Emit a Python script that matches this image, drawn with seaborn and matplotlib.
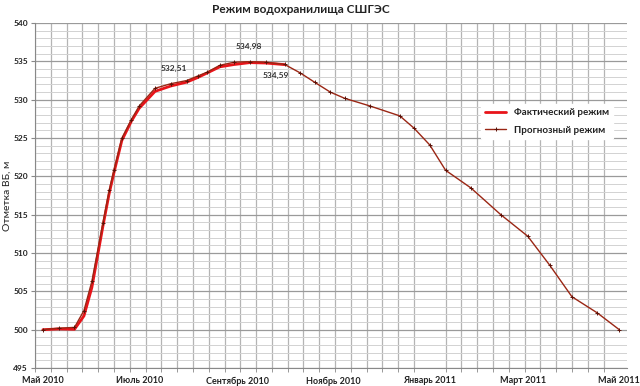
import numpy as np
import pandas as pd
import matplotlib
matplotlib.use('Agg')
import matplotlib.pyplot as plt
import matplotlib.dates as mdates
from matplotlib.ticker import MultipleLocator, FixedLocator, NullFormatter
import seaborn as sns

# Reservoir levels, m
forecast_dates = ['2010-05-01', '2010-05-11', '2010-05-21', '2010-05-27', '2010-06-01',
                  '2010-06-08', '2010-06-12', '2010-06-15', '2010-06-20', '2010-06-26',
                  '2010-07-01', '2010-07-11', '2010-07-21', '2010-07-31', '2010-08-07',
                  '2010-08-13', '2010-08-21', '2010-08-30', '2010-09-09', '2010-09-19',
                  '2010-10-01', '2010-10-11', '2010-10-20', '2010-10-30', '2010-11-08',
                  '2010-11-24', '2010-12-13', '2010-12-22', '2011-01-01', '2011-01-11',
                  '2011-01-27', '2011-02-15', '2011-03-04', '2011-03-18', '2011-04-01',
                  '2011-04-17', '2011-05-01']
forecast_level = [500.0, 500.2, 500.3, 502.5, 506.3,
                  513.9, 518.2, 520.8, 525.0, 527.4,
                  529.2, 531.5, 532.1, 532.51, 533.1,
                  533.6, 534.5, 534.9, 534.98, 534.9,
                  534.62, 533.5, 532.3, 531.0, 530.2,
                  529.2, 527.9, 526.3, 524.1, 520.8,
                  518.5, 515.0, 512.2, 508.4, 504.3,
                  502.2, 500.0]

actual_dates = forecast_dates[:21]
actual_level = [500.0, 500.1, 500.05, 501.8, 505.5,
                513.5, 517.8, 520.5, 524.7, 527.2,
                528.9, 531.1, 531.8, 532.3, 532.9,
                533.5, 534.3, 534.6, 534.85, 534.8,
                534.59]

# labelled points: (series, index, text)
labels = [('forecast', 13, '532,51'), ('forecast', 18, '534,98'), ('actual', 20, '534,59')]

month_ticks = ['2010-05-01', '2010-07-01', '2010-09-01', '2010-11-01',
               '2011-01-01', '2011-03-01', '2011-05-01']
month_labels = ['Май 2010', 'Июль 2010', 'Сентябрь 2010', 'Ноябрь 2010',
                'Январь 2011', 'Март 2011', 'Май 2011']

df_f = pd.DataFrame({'date': pd.to_datetime(forecast_dates), 'level': forecast_level})
df_a = pd.DataFrame({'date': pd.to_datetime(actual_dates), 'level': actual_level})

sns.set_style('white')
plt.rcParams['font.family'] = ['Lato', 'DejaVu Sans']

fig = plt.figure(figsize=(6.4, 3.86), dpi=100)
ax = fig.add_axes([0.0547, 0.0466, 0.9253, 0.8934])

sns.lineplot(data=df_a, x='date', y='level', ax=ax, color='#e8141a', linewidth=2.0,
             label='Фактический режим')
sns.lineplot(data=df_f, x='date', y='level', ax=ax, color='#9a2614', linewidth=1.0,
             marker='+', markersize=2.5, markeredgewidth=0.7, markeredgecolor='#5a1208',
             label='Прогнозный режим')

# annotations
offsets = {'532,51': (-9, 9), '534,98': (-1, 11), '534,59': (-6, -8)}
for series, i, txt in labels:
    d = df_f if series == 'forecast' else df_a
    ax.annotate(txt, (d['date'][i], d['level'][i]), xytext=offsets[txt],
                textcoords='offset points', ha='center', va='center',
                fontsize=6, fontweight='bold', color='#333333')

# axes
ax.set_ylim(495, 540)
ax.set_xlim(pd.Timestamp('2010-04-26'), pd.Timestamp('2011-05-06'))
ax.yaxis.set_major_locator(MultipleLocator(5))
ax.yaxis.set_minor_locator(MultipleLocator(1))
ax.grid(which='major', axis='y', color='#9a9a9a', lw=0.9)
ax.grid(which='minor', axis='y', color='#d2d2d2', lw=0.7)

grid_days = pd.date_range('2010-04-26', '2011-05-06', freq='10D')
ax.xaxis.set_minor_locator(FixedLocator(mdates.date2num(grid_days)))
ax.xaxis.set_minor_formatter(NullFormatter())
ax.set_xticks(pd.to_datetime(month_ticks))
ax.set_xticklabels(month_labels)
ax.grid(which='minor', axis='x', color='#b4b4b4', lw=0.9)
ax.tick_params(axis='x', which='major', length=0, pad=6, labelsize=6.5, labelcolor='#222222')
ax.tick_params(axis='x', which='minor', length=3, color='#888888', direction='out', bottom=True)
ax.tick_params(axis='y', which='major', length=3, color='#888888', labelsize=6,
               labelcolor='#222222', left=True, pad=2)
for t in ax.get_xticklabels() + ax.get_yticklabels():
    t.set_fontweight('bold')
ax.set_axisbelow(True)
for s in ['top', 'right']:
    ax.spines[s].set_visible(False)
ax.spines['left'].set_color('#888888')
ax.spines['bottom'].set_color('#888888')

ax.set_xlabel('')
ax.set_ylabel('Отметка ВБ, м', fontsize=7.5, color='#222222', labelpad=1)
fig.text(0.47, 0.975, 'Режим водохранилища СШГЭС', ha='center', va='center',
         fontsize=8.5, fontweight='bold', color='#222222')

leg = ax.legend(loc='center', bbox_to_anchor=(0.865, 0.715), frameon=True, fontsize=7,
                handlelength=2.2, labelspacing=0.9, borderpad=0.4)
leg.get_frame().set_facecolor('white')
leg.get_frame().set_edgecolor('white')
leg.get_frame().set_alpha(1)
for t in leg.get_texts():
    t.set_fontweight('bold')
    t.set_color('#222222')

fig.savefig('out.png', dpi=100)
